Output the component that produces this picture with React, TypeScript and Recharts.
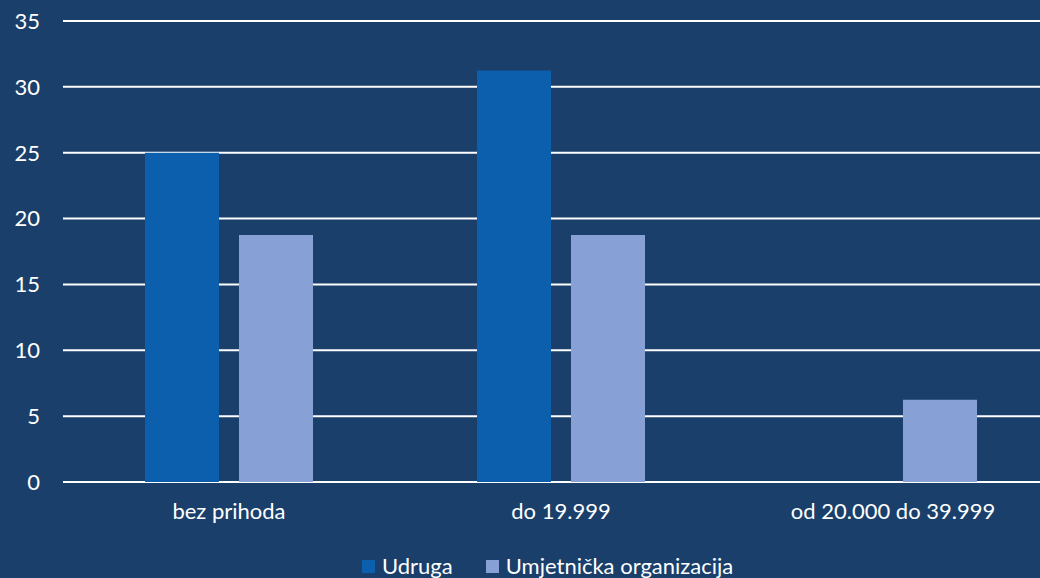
import React from "react";
import { BarChart, Bar, XAxis, YAxis, CartesianGrid } from "recharts";

const categories = ["bez prihoda", "do 19.999", "od 20.000 do 39.999"];
const udruga = [25, 31.25, 0];
const umjetnicka = [18.75, 18.75, 6.25];
const yTicks = [0, 5, 10, 15, 20, 25, 30, 35];
const seriesNames = ["Udruga", "Umjetnička organizacija"];

const data = categories.map((c, i) => ({ name: c, udruga: udruga[i], umjetnicka: umjetnicka[i] }));

const FONT = "Lato, 'Open Sans', sans-serif";
const BG = "#1A3F6B";
const C1 = "#0B5FAD";
const C2 = "#87A1D6";
const colors = [C1, C2];

export default function App() {
  return (
    <div style={{ position: "absolute", left: 0, top: 0, width: 1040, height: 578, overflow: "hidden", background: BG }}>
      <BarChart
        width={1059}
        height={578}
        data={data}
        margin={{ top: 21, right: 0, bottom: 56, left: 0 }}
        barGap={20}
        barSize={74}
        style={{ background: BG }}
      >
        <CartesianGrid vertical={false} stroke="#FFFFFF" strokeWidth={2} />
        <XAxis
          dataKey="name"
          axisLine={false}
          tickLine={false}
          tickSize={0}
          tickMargin={21}
          tick={{ fill: "#FFFFFF", fontSize: 22, fontFamily: FONT }}
          interval={0}
          height={40}
        />
        <YAxis
          width={63}
          domain={[0, 35]}
          ticks={yTicks}
          axisLine={false}
          tickLine={false}
          tickSize={0}
          tickMargin={23}
          tick={{ fill: "#FFFFFF", fontSize: 22, fontFamily: FONT }}
          interval={0}
        />
        <Bar dataKey="udruga" name={seriesNames[0]} fill={C1} isAnimationActive={false} />
        <Bar dataKey="umjetnicka" name={seriesNames[1]} fill={C2} isAnimationActive={false} />
      </BarChart>
      <div
        style={{
          position: "absolute",
          left: 362,
          top: 554,
          display: "flex",
          alignItems: "center",
          fontFamily: FONT,
          fontSize: 22,
          color: "#FFFFFF",
          whiteSpace: "nowrap",
        }}
      >
        {seriesNames.map((n, i) => (
          <div key={i} style={{ display: "flex", alignItems: "center", marginRight: 33 }}>
            <div style={{ width: 13, height: 13, background: colors[i], marginRight: 7 }} />
            <span style={{ lineHeight: "24px" }}>{n}</span>
          </div>
        ))}
      </div>
    </div>
  );
}
